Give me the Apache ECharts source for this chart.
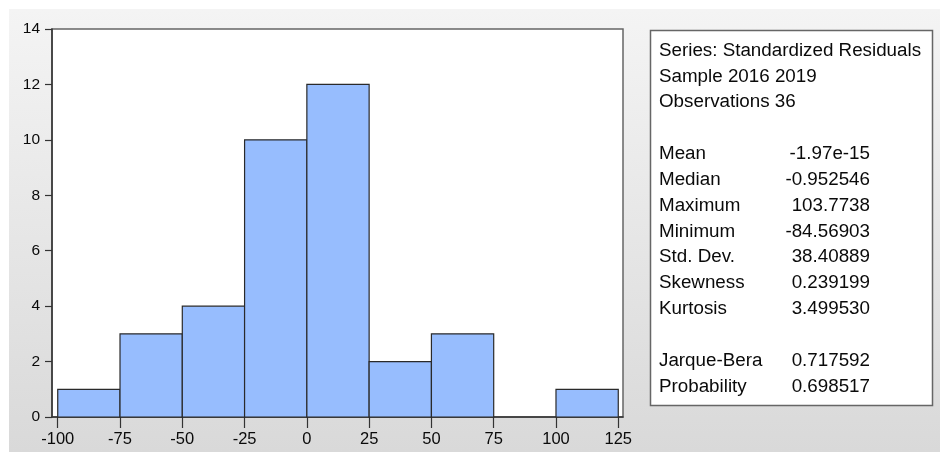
<!DOCTYPE html>
<html>
<head>
<meta charset="utf-8">
<script src="https://cdn.jsdelivr.net/npm/echarts@6/dist/echarts.min.js"></script>
<style>
  html, body { margin: 0; padding: 0; background: #fff; }
  #chart { width: 940px; height: 452px; }
</style>
</head>
<body>
<div id="chart"></div>
<script>
// Histogram of residuals: left edge of each bin and its count
const binWidth = 25;
const binStarts = [-100, -75, -50, -25, 0, 25, 50, 75, 100];
const binCounts = [1, 3, 4, 10, 12, 2, 3, 0, 1];

// Axis tick labels
const xTicks = [-100, -75, -50, -25, 0, 25, 50, 75, 100, 125];
const yTicks = [0, 2, 4, 6, 8, 10, 12, 14];

// Descriptive statistics panel
const headerLines = ['Series: Standardized Residuals', 'Sample 2016 2019', 'Observations 36'];
const statNames = ['Mean', 'Median', 'Maximum', 'Minimum', 'Std. Dev.', 'Skewness', 'Kurtosis'];
const statValues = ['-1.97e-15', '-0.952546', '103.7738', '-84.56903', '38.40889', '0.239199', '3.499530'];
const testNames = ['Jarque-Bera', 'Probability'];
const testValues = ['0.717592', '0.698517'];

const FONT = "Arial, 'Liberation Sans', sans-serif";
const chart = echarts.init(document.getElementById('chart'), null, { renderer: 'canvas' });

const bins = binStarts.map((s, i) => [s, s + binWidth, binCounts[i]]);

// Build the text rows of the statistics box
const rowTop = 50.5, rowStep = 25.85;
const boxText = [];
let row = 0;
const addRow = (label, value) => {
  const y = rowTop + row * rowStep;
  boxText.push({ type: 'text', x: 659, y: y, style: { text: label, font: '18.8px ' + FONT, fill: '#0a0a0a', verticalAlign: 'middle', align: 'left' } });
  if (value !== undefined) {
    boxText.push({ type: 'text', x: 870, y: y, style: { text: value, font: '18.8px ' + FONT, fill: '#0a0a0a', verticalAlign: 'middle', align: 'right' } });
  }
  row++;
};
headerLines.forEach(l => addRow(l));
row++;
statNames.forEach((n, i) => addRow(n, statValues[i]));
row++;
testNames.forEach((n, i) => addRow(n, testValues[i]));

chart.setOption({
  animation: false,
  backgroundColor: '#ffffff',
  grid: {
    left: 52, top: 29, width: 571, height: 388,
    show: true, backgroundColor: '#ffffff', borderColor: '#666', borderWidth: 1.5
  },
  xAxis: {
    type: 'value', min: -102.3, max: 126.9,
    splitLine: { show: false },
    axisLine: { show: true, onZero: false, lineStyle: { color: '#333', width: 1.5 } },
    axisTick: { show: true, length: 11, customValues: xTicks, lineStyle: { color: '#333', width: 1.2 } },
    axisLabel: { customValues: xTicks, margin: 14, fontSize: 16.5, fontFamily: FONT, color: '#0a0a0a' }
  },
  yAxis: {
    type: 'value', min: 0, max: 14, interval: 2,
    splitLine: { show: false },
    axisLine: { show: true, onZero: false, lineStyle: { color: '#333', width: 1.5 } },
    axisTick: { show: true, length: 7, lineStyle: { color: '#333', width: 1.2 } },
    axisLabel: { margin: 12, fontSize: 15.5, fontFamily: FONT, color: '#0a0a0a',
      formatter: v => (yTicks.indexOf(v) >= 0 ? String(v) : '') }
  },
  graphic: [
    {
      type: 'rect', z: -10, silent: true,
      shape: { x: 9, y: 9, width: 931, height: 443 },
      style: { fill: new echarts.graphic.LinearGradient(0, 0, 0, 1, [
        { offset: 0, color: '#f4f4f4' },
        { offset: 1, color: '#d9d9d9' }
      ]) }
    },
    {
      type: 'rect',
      shape: { x: 650.5, y: 30.5, width: 282, height: 375 },
      style: { fill: '#ffffff', stroke: '#666', lineWidth: 1.5 }
    },
    ...boxText
  ],
  series: [{
    type: 'custom',
    data: bins,
    encode: { x: [0, 1], y: 2 },
    renderItem: (params, api) => {
      const count = api.value(2);
      if (!count) return null;
      const p0 = api.coord([api.value(0), count]);
      const p1 = api.coord([api.value(1), 0]);
      return {
        type: 'rect',
        shape: { x: p0[0], y: p0[1], width: p1[0] - p0[0], height: p1[1] - p0[1] },
        style: { fill: '#97bdfe', stroke: '#2a2a2a', lineWidth: 1.2 }
      };
    }
  }]
});
</script>
</body>
</html>
